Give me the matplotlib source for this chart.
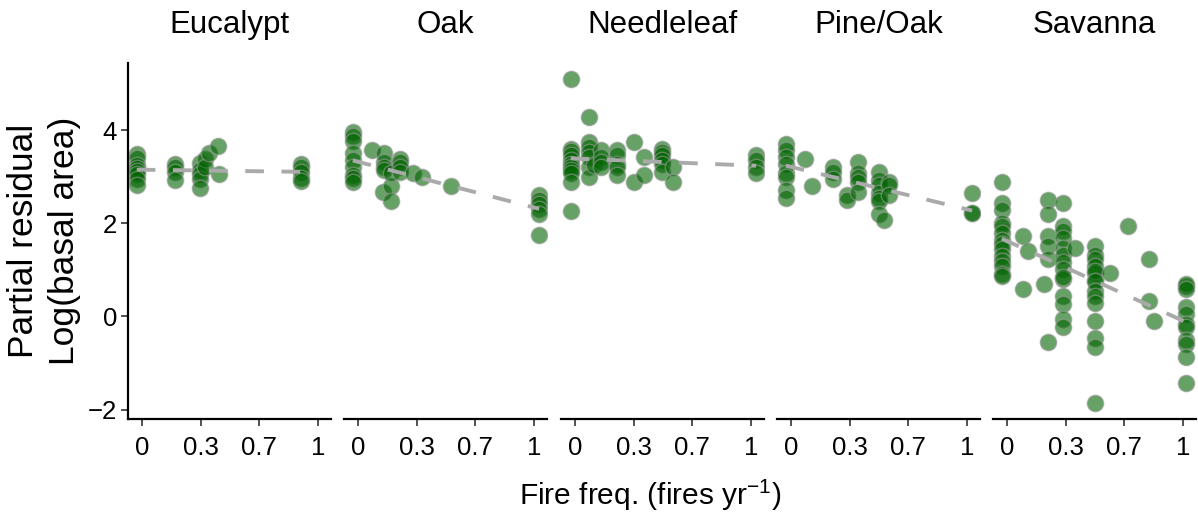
import matplotlib
matplotlib.use("Agg")
import matplotlib.pyplot as plt
import numpy as np

plt.rcParams['font.family'] = ['Liberation Sans', 'DejaVu Sans']
plt.rcParams['mathtext.fontset'] = 'custom'
plt.rcParams['mathtext.rm'] = 'Liberation Sans'
plt.rcParams['mathtext.it'] = 'Liberation Sans:italic'

facets = ["Eucalypt", "Oak", "Needleleaf", "Pine/Oak", "Savanna"]

# (fire frequency, partial residual) per facet
euc_x = [-0.03]*8 + [0.19]*4 + [0.33]*5 + [0.36]*2 + [0.38, 0.43, 0.44] + [0.905]*5
euc_y = [3.48, 3.40, 3.25, 3.18, 3.12, 3.05, 2.95, 2.82,
         3.28, 3.20, 3.10, 2.92,
         3.30, 3.15, 3.05, 2.95, 2.75,
         3.38, 3.20, 3.50, 3.65, 3.05,
         3.28, 3.20, 3.10, 2.98, 2.90]

oak_x = [-0.03]*9 + [0.08] + [0.148]*4 + [0.14] + [0.186]*3 + [0.24]*4 + [0.31, 0.365, 0.527] + [1.03]*6
oak_y = [3.96, 3.88, 3.76, 3.50, 3.35, 3.21, 3.04, 2.98, 2.88,
         3.57,
         3.50, 3.32, 3.21, 3.14,
         2.68,
         2.79, 2.47, 3.07,
         3.39, 3.32, 3.21, 3.10,
         3.07, 3.00, 2.79,
         2.60, 2.50, 2.42, 2.30, 2.20, 1.74]

ndl_x = [-0.025]*11 + [0.08]*7 + [0.11] + [0.146]*4 + [0.24]*5 + [0.335]*2 + [0.39]*2 + [0.496]*6 + [0.56]*2 + [1.03]*4
ndl_y = [5.09, 3.60, 3.55, 3.46, 3.35, 3.28, 3.21, 3.15, 3.07, 2.89, 2.26,
         4.28, 3.74, 3.64, 3.53, 3.43, 3.21, 3.00,
         3.25,
         3.57, 3.43, 3.32, 3.21,
         3.57, 3.46, 3.28, 3.21, 3.04,
         3.74, 2.89,
         3.43, 3.04,
         3.60, 3.53, 3.46, 3.36, 3.28, 3.11,
         3.21, 2.89,
         3.46, 3.36, 3.21, 3.07]

pin_x = [-0.03]*8 + [0.08, 0.12] + [0.237]*3 + [0.32]*2 + [0.38]*5 + [0.50]*7 + [0.53] + [0.56]*3 + [1.03]*3
pin_y = [3.71, 3.57, 3.43, 3.28, 3.07, 3.00, 2.72, 2.54,
         3.39, 2.79,
         3.21, 3.11, 2.96,
         2.61, 2.50,
         3.32, 3.07, 3.00, 2.89, 2.68,
         3.11, 2.93, 2.82, 2.64, 2.54, 2.47, 2.19,
         2.08,
         2.89, 2.82, 2.61,
         2.64, 2.23, 2.23]

sav_x = ([-0.03]*14 + [0.09, 0.12, 0.09, 0.21] + [0.235]*6 + [0.32]*14 + [0.386]
         + [0.50]*15 + [0.585, 0.69, 0.81, 0.81, 0.835] + [1.02]*11)
sav_y = [2.89, 2.43, 2.29, 2.01, 1.94, 1.79, 1.65, 1.55, 1.44, 1.30, 1.19, 1.09, 0.91, 0.87,
         1.72, 1.40, 0.59, 0.70,
         2.50, 2.19, 1.72, 1.51, 1.23, -0.55,
         2.43, 1.94, 1.83, 1.69, 1.47, 1.33, 1.16, 1.01, 0.80, 0.84, 0.45, 0.27, -0.05, -0.23,
         1.47,
         1.51, 1.33, 1.23, 1.09, 0.94, 0.77, 0.98, 0.77, 0.55, 0.45, 0.30, -0.09, -0.47, -0.65, -1.86,
         0.94, 1.94, 1.23, 0.34, -0.09,
         0.66, 0.70, 0.59, 0.20, 0.06, -0.16, -0.23, -0.51, -0.58, -0.87, -1.43]

xs = [euc_x, oak_x, ndl_x, pin_x, sav_x]
ys = [euc_y, oak_y, ndl_y, pin_y, sav_y]

# fitted lines: intercept and slope per facet
fit_intercept = [3.15, 3.32, 3.39, 3.21, 1.62]
fit_slope = [-0.05, -0.98, -0.15, -0.91, -1.71]

xticks = [0, 1/3, 2/3, 1]
xticklabels = ["0", "0.3", "0.7", "1"]
yticks = [-2, 0, 2, 4]
yticklabels = ["\u22122", "0", "2", "4"]

W, H = 1198, 521
fig = plt.figure(figsize=(W/100, H/100), dpi=100)

lefts = [128, 344, 561, 777, 993]
pw = 203
top, bottom = 63, 419
ph = bottom - top

for i, name in enumerate(facets):
    ax = fig.add_axes([lefts[i]/W, 1 - bottom/H, pw/W, ph/H])
    x = np.array(xs[i]); y = np.array(ys[i])
    ax.scatter(x, y, s=140, facecolor='#006400', edgecolor='#9a9a9a',
               linewidths=1.0, alpha=0.6, zorder=2)
    lx = np.array([x.min(), x.max()])
    ax.plot(lx, fit_intercept[i] + fit_slope[i]*lx, color='#aaaaaa', lw=2.8,
            dashes=(4.8, 4.5), zorder=3, dash_capstyle='butt')
    ax.set_xlim(-0.08, 1.075)
    ax.set_ylim(-2.2, 5.44)
    for s in ['top', 'right']:
        ax.spines[s].set_visible(False)
    ax.spines['bottom'].set_linewidth(1.6)
    ax.set_xticks(xticks)
    ax.set_xticklabels(xticklabels, fontsize=18.5)
    ax.tick_params(axis='x', length=5, width=1.2, pad=7, color='#333333')
    if i == 0:
        ax.spines['left'].set_linewidth(1.6)
        ax.set_yticks(yticks)
        ax.set_yticklabels(yticklabels, fontsize=18.5)
        ax.tick_params(axis='y', length=5, width=1.2, pad=3, color='#333333')
    else:
        ax.spines['left'].set_visible(False)
        ax.set_yticks([])
    ax.text(0.5, 1 + 38/ph, name, transform=ax.transAxes, ha='center', va='center',
            fontsize=22.5)

fig.text(44/W, 1 - 241/H, "Partial residual\nLog(basal area)", rotation=90,
         ha='center', va='center', fontsize=25.5, linespacing=1.3)
fig.text(650/W, 1 - 495/H, "Fire freq. (fires yr$^{-1}$)", ha='center', va='center',
         fontsize=21.5)

fig.savefig("out.png", dpi=100)
